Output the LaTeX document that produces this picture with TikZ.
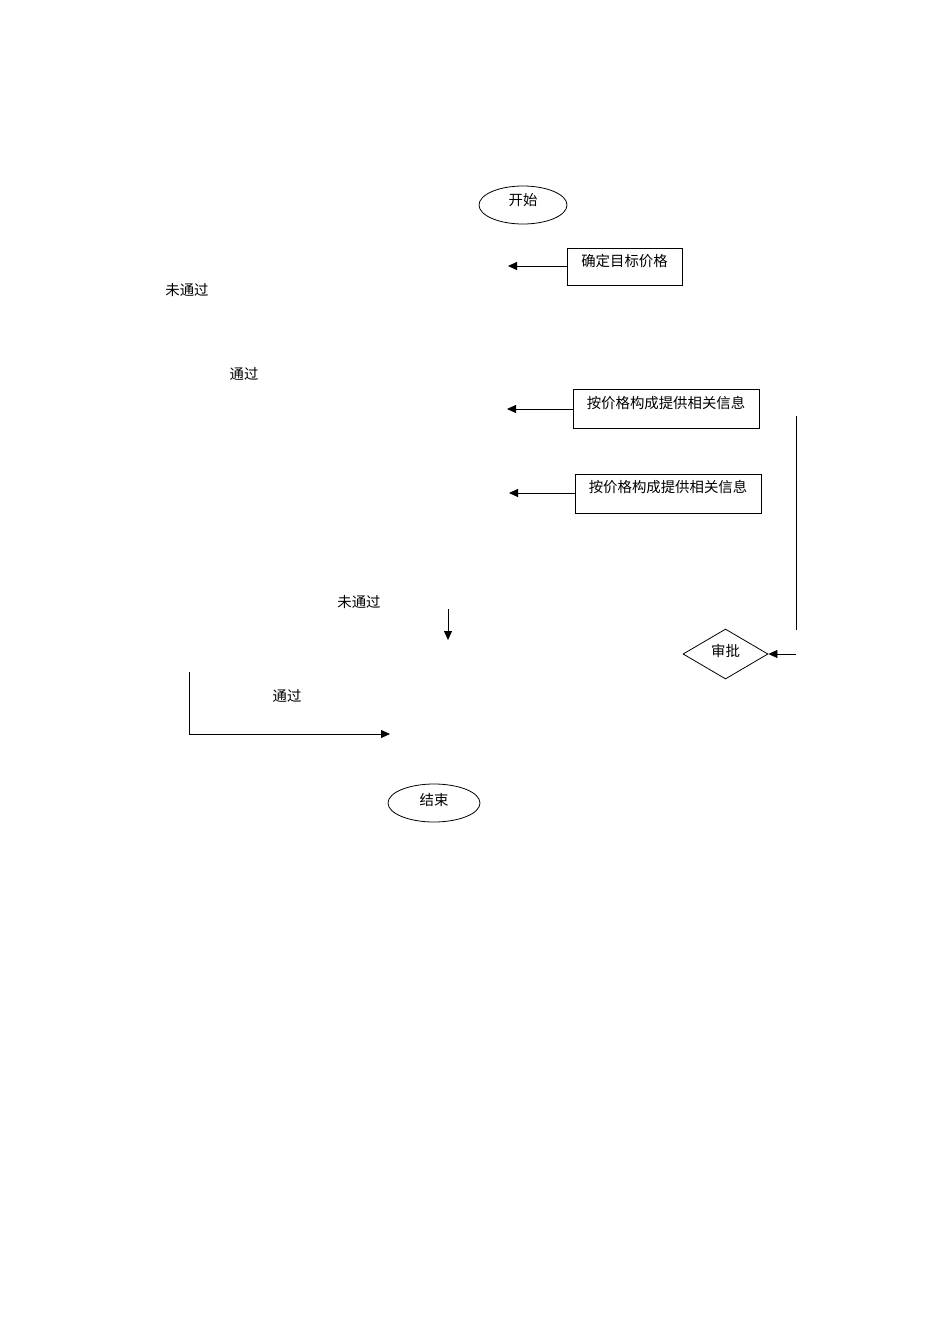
\documentclass[tikz,border=0pt]{standalone}
\usepackage{fontspec}
\setmainfont{Liberation Serif}
\newfontfamily\cjk{Noto Sans CJK SC}
\usetikzlibrary{arrows.meta,shapes.geometric}
\begin{document}
\begin{tikzpicture}[x=1pt,y=-1pt,
  every node/.style={font=\cjk\fontsize{14.4}{16}\selectfont, inner sep=0pt},
  oval/.style={draw, ellipse, line width=0.8pt},
  box/.style={draw, rectangle, line width=0.8pt},
  dia/.style={draw, diamond, line width=0.8pt},
  lbl/.style={},
  conn/.style={line width=0.8pt},
  arr/.style={line width=0.8pt, -{Triangle[length=9pt,width=8pt]}}]
\useasboundingbox (0,0) rectangle (950,1344);
% start
\node[oval, minimum width=88pt, minimum height=38pt] (start) at (523,205) {};
\node at (523,200) {开始};
% box 1
\node[box, minimum width=115pt, minimum height=37pt] (b1) at (624.5,266.5) {};
\node at (624.5,261) {确定目标价格};
\coordinate (a1) at (508,266);
\draw[arr] (b1.west |- a1) -- (a1);
% labels left
\node[lbl] (l1) at (187,290) {未通过};
\node[lbl] (l2) at (244,374) {通过};
% box 2
\node[box, minimum width=186pt, minimum height=39pt] (b2) at (666,408.5) {};
\node at (666,403) {按价格构成提供相关信息};
\coordinate (a2) at (507,409);
\draw[arr] (b2.west |- a2) -- (a2);
% box 3
\node[box, minimum width=186pt, minimum height=39pt] (b3) at (668,493.5) {};
\node at (668,487) {按价格构成提供相关信息};
\coordinate (a3) at (509,493);
\draw[arr] (b3.west |- a3) -- (a3);
% vertical line right
\coordinate (v1) at (796,416);
\coordinate (v2) at (796,630);
\draw[conn] (v1) -- (v2);
% diamond
\node[dia, minimum width=85pt, minimum height=50pt, aspect=1.7] (d) at (725.5,654) {};
\node at (725.5,651) {审批};
\coordinate (a4) at (796,654);
\draw[arr] (a4) -- (d.east);
% not passed label and down arrow
\node[lbl] (l3) at (359,602) {未通过};
\coordinate (a5s) at (448,609);
\coordinate (a5e) at (448,640);
\draw[arr] (a5s) -- (a5e);
% passed path
\node[lbl] (l4) at (287,696) {通过};
\coordinate (p1) at (189,672);
\coordinate (p2) at (189,734);
\coordinate (p3) at (390,734);
\draw[arr] (p1) -- (p2) -- (p3);
% end
\node[oval, minimum width=92pt, minimum height=38pt] (end) at (434,803) {};
\node at (434,800) {结束};
\end{tikzpicture}
\end{document}
